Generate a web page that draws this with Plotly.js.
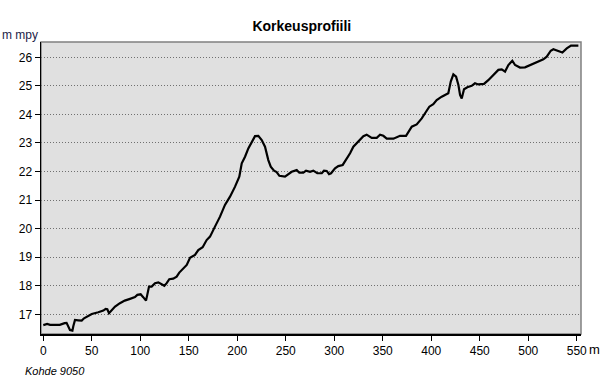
<!DOCTYPE html>
<html>
<head>
<meta charset="utf-8">
<script src="https://cdn.plot.ly/plotly-3.0.1.min.js"></script>
<style>
html,body{margin:0;padding:0;background:#fff;}
#chart{width:600px;height:389px;}
</style>
</head>
<body>
<div id="chart"></div>
<script>
// Distance along profile (m)
const distance = [0,4,7,12,17,22,24,27.5,30,31,32.7,36,39.6,42,44.7,50,56.7,61.9,64.3,66,67.7,70.5,74,79,84,89.4,94.5,97,100.4,103,105.9,107.2,109,111.7,115.2,118.6,122,124.8,127.2,129.9,134,137.5,140.2,142.7,147.9,151.3,156.4,159.8,164.3,168.4,171.9,177,182.2,187.3,192.5,197.7,202.1,204.6,208,211.4,214.9,218.3,221.7,225.2,228.6,232,234.5,237.9,240.6,243.4,249.2,252.6,256.1,261.3,264,268.1,270.9,275,278.4,282.5,287.1,289.4,292.2,294.6,296.7,300.8,304.2,308.7,312.1,316.3,319.7,324.8,330,333.4,338.6,343.8,347.2,350.6,354.1,361,365.1,367.8,374,376.4,379.9,385,390.2,393.6,398,402.1,405.6,410.8,414.2,417.6,420.1,422.8,425.6,428,429.7,431.4,433.8,437.2,441.7,445.1,448.5,454.4,458.8,464,469.2,472.7,476.1,479.5,483.6,486.4,491.5,496.7,501.8,508.7,515.6,519.1,523.2,525.9,530.4,535.2,539.7,544.1,551.7];
// Elevation (m mpy)
const elevation = [16.62,16.66,16.63,16.64,16.63,16.69,16.7,16.45,16.43,16.59,16.8,16.79,16.78,16.86,16.92,17.01,17.07,17.13,17.19,17.18,17.04,17.15,17.27,17.39,17.48,17.54,17.6,17.68,17.7,17.6,17.48,17.68,17.97,17.97,18.09,18.12,18.06,18.0,18.09,18.23,18.25,18.32,18.46,18.55,18.73,18.98,19.08,19.25,19.35,19.6,19.72,20.07,20.42,20.83,21.12,21.47,21.82,22.29,22.52,22.81,23.04,23.24,23.25,23.1,22.87,22.4,22.17,22.03,21.98,21.85,21.82,21.91,21.99,22.05,21.96,21.96,22.03,21.99,22.03,21.94,21.94,22.03,22.02,21.91,21.94,22.11,22.19,22.23,22.4,22.64,22.87,23.04,23.24,23.29,23.18,23.18,23.29,23.25,23.15,23.15,23.22,23.25,23.25,23.37,23.57,23.65,23.86,24.04,24.27,24.36,24.5,24.62,24.68,24.74,25.15,25.4,25.32,25.03,24.68,24.56,24.88,24.95,25.0,25.09,25.05,25.07,25.2,25.38,25.56,25.58,25.5,25.73,25.88,25.73,25.64,25.65,25.73,25.82,25.93,26.02,26.23,26.28,26.23,26.17,26.31,26.41,26.41];

const xTicks = [0,50,100,150,200,250,300,350,400,450,500,550];
const yTicks = [17,18,19,20,21,22,23,24,25,26];

const titleText = 'Korkeusprofiili';
const yUnit = 'm mpy';
const xUnit = 'm';
const footer = 'Kohde 9050';

const font = 'Liberation Sans, Arial, sans-serif';

const trace = {
  x: distance, y: elevation, type: 'scatter', mode: 'lines',
  line: {color: '#000000', width: 2.2, shape: 'linear'},
  hoverinfo: 'skip'
};

const layout = {
  width: 600, height: 389,
  margin: {l: 41, r: 19, t: 42, b: 55, pad: 0},
  paper_bgcolor: '#ffffff',
  plot_bgcolor: '#e0e0e0',
  showlegend: false,
  font: {family: font, size: 12, color: '#000'},
  title: {text: '<b>' + titleText + '</b>', x: 0.483, xref: 'paper', xanchor: 'center',
          y: 1, yref: 'paper', yanchor: 'bottom', pad: {b: 11, t: 0, l: 0, r: 0},
          font: {family: font, size: 14, color: '#000'}},
  xaxis: {
    range: [-2.37, 554.4], tickvals: xTicks, ticktext: xTicks.map(String),
    showgrid: false, zeroline: false,
    showline: true, linecolor: '#000', linewidth: 1.5,
    ticks: 'outside', ticklen: 5, tickwidth: 1, tickcolor: '#000',
    tickfont: {family: font, size: 12, color: '#000'},
    fixedrange: true
  },
  yaxis: {
    range: [16.31, 26.536], tickvals: yTicks, ticktext: yTicks.map(String),
    showgrid: true, gridcolor: '#707070', gridwidth: 1, griddash: '1px,2px',
    zeroline: false,
    showline: true, linecolor: '#000', linewidth: 1.5,
    ticks: 'outside', ticklen: 5, tickwidth: 1, tickcolor: '#000',
    tickfont: {family: font, size: 12, color: '#000'},
    fixedrange: true
  },
  shapes: [
    {type: 'rect', xref: 'paper', yref: 'paper', x0: 0, x1: 1, y0: 0, y1: 1,
     line: {color: '#808080', width: 1.5}, layer: 'below'}
  ],
  annotations: [
    {text: yUnit, xref: 'paper', yref: 'paper', x: -41/540, y: 1 + 7/292, xanchor: 'left', yanchor: 'middle',
     showarrow: false, font: {family: font, size: 12, color: '#1c1c48'}},
    {text: xUnit, xref: 'paper', yref: 'paper', x: 1 + 6/540, y: -15/292, xanchor: 'left', yanchor: 'middle',
     showarrow: false, font: {family: font, size: 13, color: '#000'}},
    {text: '<i>' + footer + '</i>', xref: 'paper', yref: 'paper', x: -18/540, y: -37/292, xanchor: 'left', yanchor: 'middle',
     showarrow: false, font: {family: font, size: 11, color: '#000'}}
  ]
};

Plotly.newPlot('chart', [trace], layout, {displayModeBar: false, staticPlot: true});
</script>
</body>
</html>
